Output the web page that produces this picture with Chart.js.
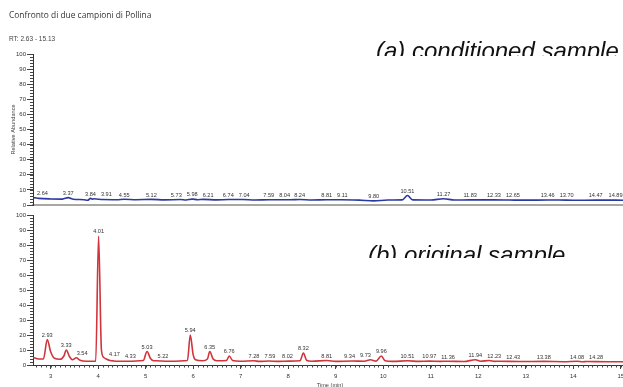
<!DOCTYPE html>
<html>
<head>
<meta charset="utf-8">
<script src="https://cdn.jsdelivr.net/npm/chart.js@4.4.1/dist/chart.umd.min.js"></script>
<style>
    html, body { margin: 0; padding: 0; background: #fff; }
    #wrap { position: relative; width: 623px; height: 387px; overflow: hidden; background: #fff; }
    #wrap canvas { position: absolute; left: 0; top: 0; }
    .txt { position: absolute; white-space: nowrap; color: #333; }
    #title { left: 9px; top: 10px; font: 8.4px/10px "Open Sans", sans-serif; }
    #rt { left: 9px; top: 35px; font: 6.5px/8px "Liberation Sans", Arial, sans-serif; color: #444; }
    .tag { position: absolute; overflow: hidden; white-space: nowrap; color: #111;
           font: italic 24px/24px "Liberation Sans", Arial, sans-serif; }
    #tagA { left: 376px; top: 39px; height: 17px; }
    #tagB { left: 368px; top: 243px; height: 15px; }
</style>
</head>
<body>
<div id="wrap">
    <canvas id="chartA" width="640" height="400"></canvas>
    <canvas id="chartB" width="640" height="400"></canvas>
    <div class="txt" id="title">Confronto di due campioni di Pollina</div>
    <div class="txt" id="rt">RT: 2.63 - 15.13</div>
    <div class="tag" id="tagA">(a) conditioned sample</div>
    <div class="tag" id="tagB">(b) original sample</div>
</div>
<script>
// Data (time in min, relative abundance in %)
const timeA = [2.63, 2.64, 2.75, 3.0, 3.25, 3.37, 3.48, 3.7, 3.78, 3.84, 3.88, 3.91, 4.1, 4.4, 4.55, 4.8,
    5.12, 5.4, 5.73, 5.85, 5.98, 6.1, 6.21, 6.5, 6.74, 7.04, 7.3, 7.59, 8.04, 8.24, 8.5, 8.81, 9.11,
    9.5, 9.80, 10.1, 10.4, 10.51, 10.62, 11.0, 11.27, 11.5, 11.83, 12.33, 12.65, 13.0, 13.46, 13.70,
    14.0, 14.47, 14.89, 15.13];
const abundA = [4.7, 4.9, 4.4, 4.0, 3.9, 4.9, 3.8, 3.5, 3.1, 4.4, 3.9, 4.1, 3.6, 3.5, 3.8, 3.5,
    3.7, 3.4, 3.6, 3.3, 3.9, 3.5, 3.7, 3.4, 3.6, 3.6, 3.3, 3.5, 3.5, 3.6, 3.3, 3.5, 3.5,
    3.2, 2.7, 3.3, 3.4, 6.3, 3.4, 3.3, 4.1, 3.3, 3.4, 3.4, 3.3, 3.2, 3.3, 3.3,
    3.1, 3.2, 3.2, 3.1];
const peaksA = [2.64, 3.37, 3.84, 3.91, 4.55, 5.12, 5.73, 5.98, 6.21, 6.74, 7.04, 7.59, 8.04, 8.24,
    8.81, 9.11, 9.80, 10.51, 11.27, 11.83, 12.33, 12.65, 13.46, 13.70, 14.47, 14.89];

const timeB = [2.63, 2.75, 2.85, 2.93, 3.0, 3.08, 3.2, 3.28, 3.33, 3.40, 3.46, 3.54, 3.62, 3.75, 3.95,
    4.01, 4.07, 4.12, 4.17, 4.25, 4.33, 4.6, 4.95, 5.03, 5.1, 5.15, 5.22, 5.5, 5.88, 5.94, 6.0, 6.05,
    6.2, 6.3, 6.35, 6.42, 6.5, 6.7, 6.76, 6.83, 7.0, 7.28, 7.4, 7.59, 7.8, 8.02, 8.25, 8.32, 8.39,
    8.5, 8.81, 9.0, 9.34, 9.6, 9.73, 9.85, 9.96, 10.04, 10.2, 10.51, 10.75, 10.97, 11.2, 11.36,
    11.7, 11.94, 12.05, 12.23, 12.35, 12.43, 12.9, 13.38, 13.8, 14.08, 14.2, 14.28, 14.7, 15.13];
const abundB = [5.0, 4.0, 4.0, 17, 9, 4.5, 3.8, 6, 10, 5.5, 3.5, 4.8, 3.2, 2.5, 2.5,
    86, 10, 5, 4.0, 3.0, 2.7, 2.5, 3.0, 9, 4.5, 3.0, 2.8, 2.5, 3.0, 20, 7, 3.5,
    2.8, 4, 9, 4, 2.8, 3.0, 6, 3, 2.5, 2.8, 2.4, 2.7, 2.4, 2.6, 2.8, 8, 3,
    2.5, 3.0, 2.4, 2.7, 2.5, 3.5, 2.6, 6, 2.8, 2.4, 2.8, 2.4, 2.6, 2.4, 2.5,
    2.3, 3.5, 2.5, 3.0, 2.4, 2.5, 2.3, 2.4, 2.2, 2.5, 2.2, 2.3, 2.2, 2.2];
const peaksB = [2.93, 3.33, 3.54, 4.01, 4.17, 4.33, 5.03, 5.22, 5.94, 6.35, 6.76, 7.28, 7.59, 8.02,
    8.32, 8.81, 9.34, 9.73, 9.96, 10.51, 10.97, 11.36, 11.94, 12.23, 12.43, 13.38, 14.08, 14.28];

const yTicks = [0, 10, 20, 30, 40, 50, 60, 70, 80, 90, 100];
const xTicks = [3, 4, 5, 6, 7, 8, 9, 10, 11, 12, 13, 14, 15];
const rtRange = [2.63, 15.13];

const labelFont = '"Liberation Sans", Arial, sans-serif';

// small ticks between the labelled ones
const minorTicks = {
    id: 'minorTicks',
    afterDraw(chart, args, opts) {
        const ctx = chart.ctx;
        const y = chart.scales.y;
        ctx.save();
        ctx.strokeStyle = '#444';
        ctx.lineWidth = 1;
        for (let v = 0; v <= 100; v += 2) {
            const py = Math.round(y.getPixelForValue(v)) + 0.5;
            ctx.beginPath();
            ctx.moveTo(y.right, py);
            ctx.lineTo(y.right - 3, py);
            ctx.stroke();
        }
        if (opts.x) {
            const x = chart.scales.x;
            for (let i = Math.ceil(x.min * 10); i <= x.max * 10; i++) {
                const px = Math.round(x.getPixelForValue(i / 10)) + 0.5;
                ctx.beginPath();
                ctx.moveTo(px, x.top);
                ctx.lineTo(px, x.top + 2.5);
                ctx.stroke();
            }
        }
        ctx.restore();
    }
};

// retention time written above each peak, bigger peaks keep their place
const peakLabels = {
    id: 'peakLabels',
    afterDatasetsDraw(chart, args, opts) {
        const {ctx, chartArea, scales: {x, y}} = chart;
        const data = chart.data.datasets[0].data;
        const gap = 5;
        ctx.save();
        ctx.font = '5.6px ' + labelFont;
        ctx.fillStyle = '#333';
        ctx.textAlign = 'left';
        ctx.textBaseline = 'bottom';

        const items = opts.peaks.map(t => {
            const pt = data.find(p => p.x === t);
            const text = t.toFixed(2);
            const w = ctx.measureText(text).width;
            const left = Math.max(x.getPixelForValue(t) - w / 2, chartArea.left + 4);
            return { text, w, left, value: pt.y };
        });

        const placed = [];
        items.slice().sort((a, b) => b.value - a.value).forEach(it => {
            for (let k = 0; k < 20; k++) {
                const hit = placed.find(p => it.left < p.left + p.w + gap && it.left + it.w + gap > p.left);
                if (!hit) break;
                if (it.left + it.w / 2 >= hit.left + hit.w / 2) {
                    it.left = hit.left + hit.w + gap;
                } else {
                    it.left = hit.left - gap - it.w;
                }
            }
            placed.push(it);
        });

        items.forEach(it => {
            ctx.fillText(it.text, it.left, y.getPixelForValue(it.value) - 1.5);
        });
        ctx.restore();
    }
};

function yAxis(withTitle) {
    return {
        min: 0,
        max: 100,
        afterBuildTicks: s => { s.ticks = yTicks.map(v => ({ value: v })); },
        afterFit: s => { s.width = 33; },
        ticks: { font: { size: 6, family: labelFont }, color: '#333', padding: 1 },
        grid: { drawOnChartArea: false, tickLength: 6, color: '#444' },
        border: { color: '#333', width: 1 },
        title: {
            display: withTitle,
            text: 'Relative Abundance',
            font: { size: 5.6, family: labelFont },
            color: '#444',
            padding: { top: 10.5 }
        }
    };
}

function toPoints(times, values) {
    return times.map((t, i) => ({ x: t, y: values[i] }));
}

// (a) conditioned sample
new Chart(document.getElementById('chartA'), {
    type: 'line',
    data: {
        datasets: [{
            data: toPoints(timeA, abundA),
            borderColor: '#2b3aa0',
            borderWidth: 1.6,
            pointRadius: 0,
            cubicInterpolationMode: 'monotone'
        }]
    },
    options: {
        responsive: false,
        animation: false,
        layout: { padding: { top: 54, right: 13, bottom: 0, left: 0 } },
        plugins: {
            legend: { display: false },
            tooltip: { enabled: false },
            minorTicks: { x: false },
            peakLabels: { peaks: peaksA }
        },
        scales: {
            x: {
                type: 'linear',
                min: rtRange[0],
                max: rtRange[1],
                afterFit: s => { s.height = 195; },
                ticks: { display: false },
                grid: { display: false },
                border: { color: '#a8a8a0', width: 2 }
            },
            y: yAxis(true)
        }
    },
    plugins: [minorTicks, peakLabels]
});

// (b) original sample
new Chart(document.getElementById('chartB'), {
    type: 'line',
    data: {
        datasets: [{
            data: toPoints(timeB, abundB),
            borderColor: '#d1343b',
            borderWidth: 1.6,
            pointRadius: 0,
            cubicInterpolationMode: 'monotone'
        }]
    },
    options: {
        responsive: false,
        animation: false,
        layout: { padding: { top: 215, right: 13, bottom: 0, left: 0 } },
        plugins: {
            legend: { display: false },
            tooltip: { enabled: false },
            minorTicks: { x: true },
            peakLabels: { peaks: peaksB }
        },
        scales: {
            x: {
                type: 'linear',
                min: rtRange[0],
                max: rtRange[1],
                afterBuildTicks: s => { s.ticks = xTicks.map(v => ({ value: v })); },
                afterFit: s => { s.height = 35; },
                ticks: { font: { size: 6, family: labelFont }, color: '#333', padding: 4 },
                grid: { drawOnChartArea: false, tickLength: 4, color: '#444' },
                border: { color: '#333', width: 1 },
                title: {
                    display: true,
                    text: 'Time (min)',
                    font: { size: 5.6, family: labelFont },
                    color: '#444',
                    padding: { bottom: 11 }
                }
            },
            y: yAxis(false)
        }
    },
    plugins: [minorTicks, peakLabels]
});
</script>
</body>
</html>
